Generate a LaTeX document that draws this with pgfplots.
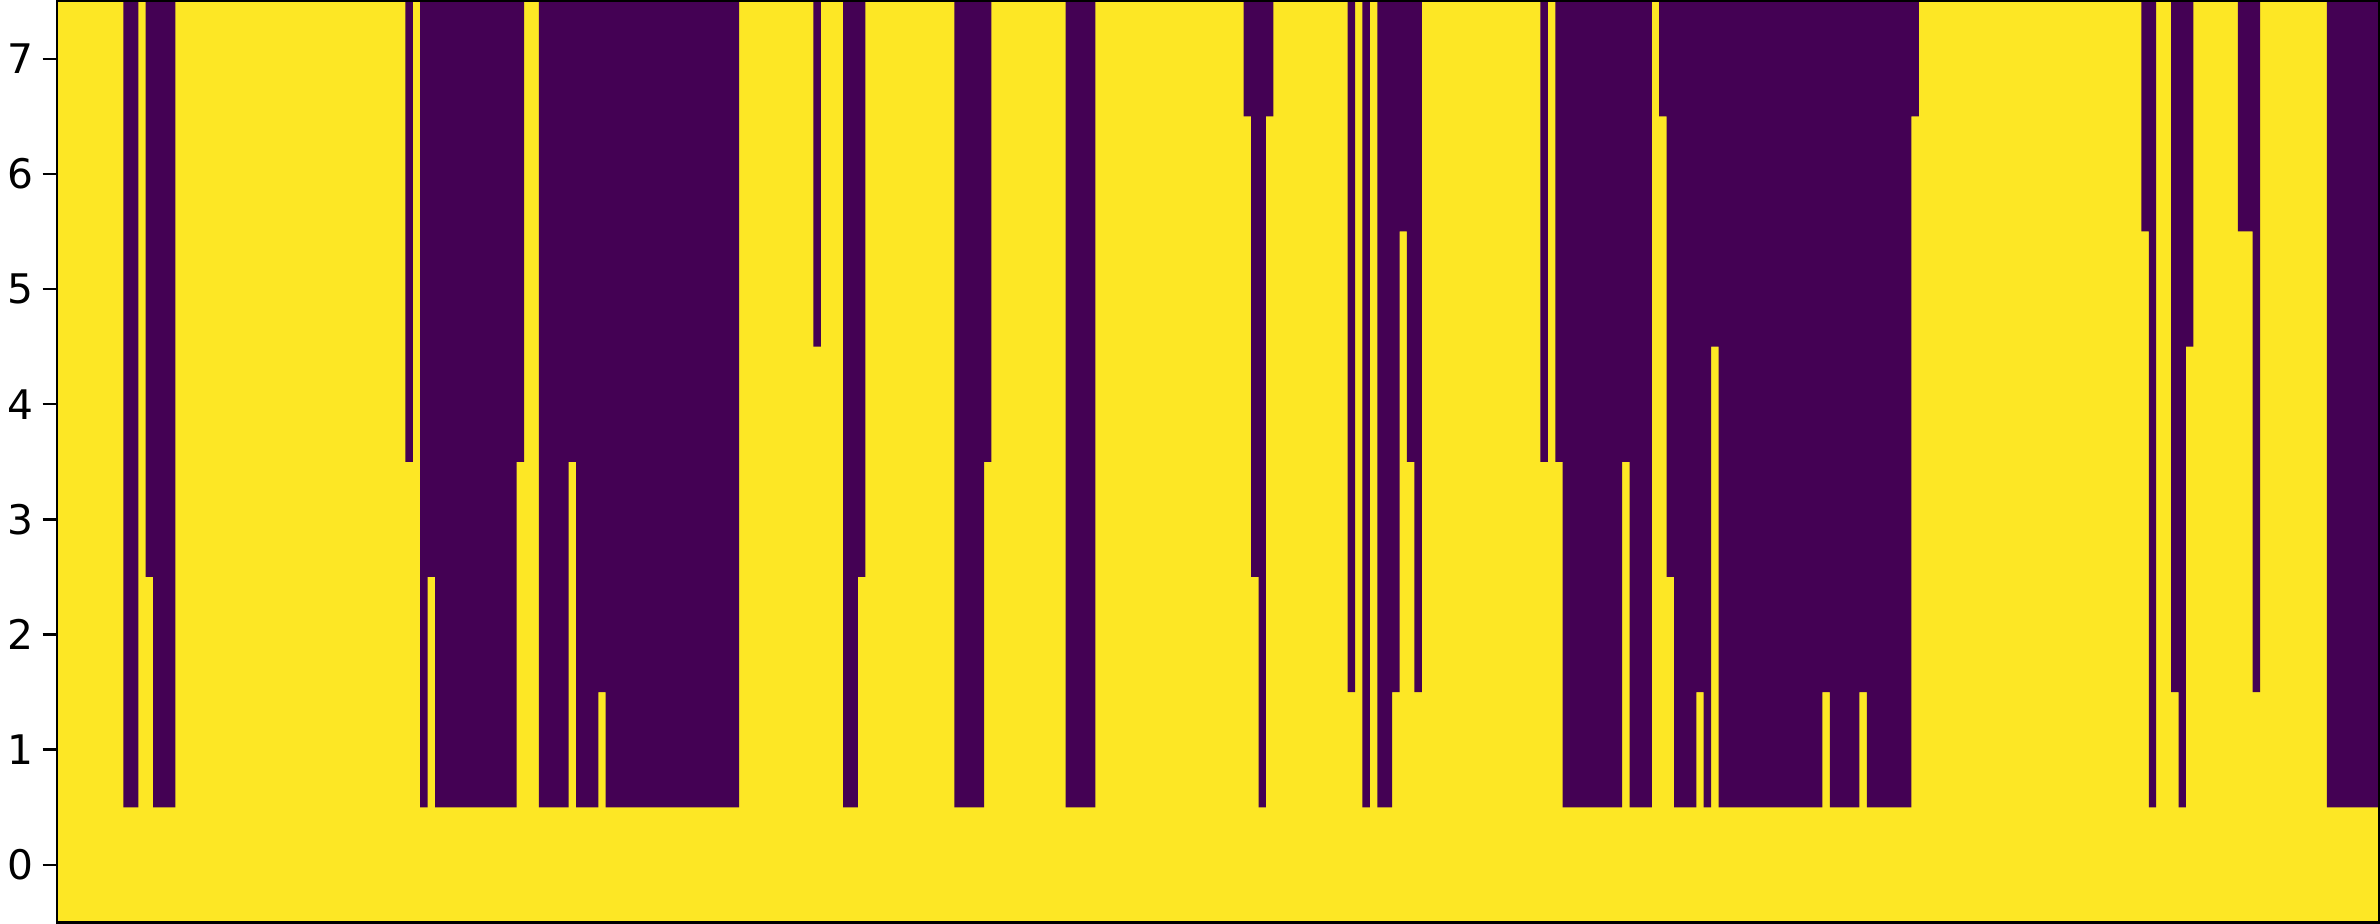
\documentclass[border=0pt]{standalone}
\usepackage{fontspec}
\setmainfont{DejaVu Sans}
\usepackage{pgfplots}
\pgfplotsset{compat=1.18}
\definecolor{vpurple}{HTML}{440154}
\definecolor{vyellow}{HTML}{FDE725}
\begin{document}
\begin{tikzpicture}
\begin{axis}[
  scale only axis,
  width=581pt, height=230.5pt,
  xmin=-0.5, xmax=312.5, ymin=-0.5, ymax=7.5,
  axis background/.style={fill=vyellow},
  axis on top,
  xtick=\empty,
  ytick={0,1,2,3,4,5,6,7},
  ytick pos=left,
  tick align=outside,
  major tick length=3.5pt,
  tick style={black, line width=0.6pt},
  axis line style={line width=0.6pt},
  yticklabel style={font=\fontsize{10.2}{12}\selectfont, inner sep=2pt},
  /pgf/number format/assume math mode=true,
]
\addplot[fill=vpurple, draw=none, const plot mark left] coordinates {
(-0.5,7.5) (8.5,0.5) (10.5,7.5) (11.5,2.5) (12.5,0.5) (15.5,7.5)
(46.5,3.5) (47.5,7.5) (48.5,0.5) (49.5,2.5) (50.5,0.5) (61.5,3.5)
(62.5,7.5) (64.5,0.5) (68.5,3.5) (69.5,0.5) (72.5,1.5) (73.5,0.5)
(91.5,7.5) (101.5,4.5) (102.5,7.5) (105.5,0.5) (107.5,2.5) (108.5,7.5)
(120.5,0.5) (124.5,3.5) (125.5,7.5) (135.5,0.5) (139.5,7.5) (159.5,6.5)
(160.5,2.5) (161.5,0.5) (162.5,6.5) (163.5,7.5) (173.5,1.5) (174.5,7.5)
(175.5,0.5) (176.5,7.5) (177.5,0.5) (179.5,1.5) (180.5,5.5) (181.5,3.5)
(182.5,1.5) (183.5,7.5) (199.5,3.5) (200.5,7.5) (201.5,3.5) (202.5,0.5)
(210.5,3.5) (211.5,0.5) (214.5,7.5) (215.5,6.5) (216.5,2.5) (217.5,0.5)
(220.5,1.5) (221.5,0.5) (222.5,4.5) (223.5,0.5) (237.5,1.5) (238.5,0.5)
(242.5,1.5) (243.5,0.5) (249.5,6.5) (250.5,7.5) (280.5,5.5) (281.5,0.5)
(282.5,7.5) (284.5,1.5) (285.5,0.5) (286.5,4.5) (287.5,7.5) (293.5,5.5)
(295.5,1.5) (296.5,7.5) (305.5,0.5) (312.5,0.5) (312.5,7.5)
} -- cycle;
\end{axis}
\end{tikzpicture}
\end{document}
